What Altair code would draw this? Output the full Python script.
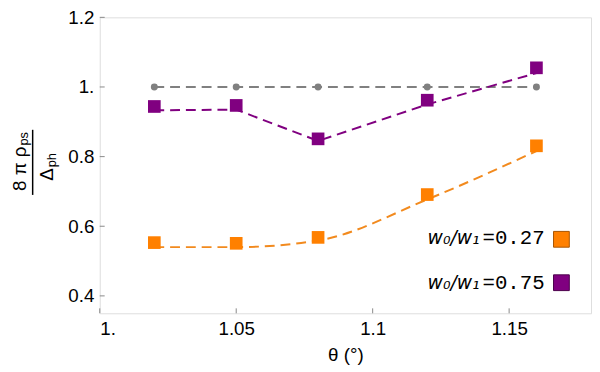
import altair as alt
import pandas as pd

# ---- data ----
theta = [1.02, 1.05, 1.08, 1.12, 1.16]
reference_line = [1.0, 1.0, 1.0, 1.0, 1.0]
purple_points = [0.944, 0.947, 0.851, 0.962, 1.055]
purple_fit = [0.933, 0.935, 0.845, 0.950, 1.040]
orange_points = [0.553, 0.551, 0.568, 0.691, 0.831]
orange_fit = [0.540, 0.540, 0.559, 0.677, 0.816]

x_ticks = [1.0, 1.05, 1.1, 1.15]
y_ticks = [0.4, 0.6, 0.8, 1.0, 1.2]
x_domain = [1.0, 1.18]
y_domain = [0.35, 1.2]

legend_names = ["w\u2080/w\u2081", "w\u2080/w\u2081"]
legend_values = ["=0.27", "=0.75"]
x_title = "\u03b8 (\u00b0)"
y_num_main = "8 \u03c0 \u03c1"
y_num_sub = "ps"
y_den_main = "\u0394"
y_den_sub = "ph"

ORANGE = "#FF8000"
PURPLE = "#800080"
GRAY = "#808080"
TOP = 7
W, H = 498, 300

df = pd.DataFrame({
    "theta": theta,
    "ref": reference_line,
    "pp": purple_points,
    "pf": purple_fit,
    "op": orange_points,
    "of": orange_fit,
})

xs = alt.Scale(domain=x_domain, nice=False, zero=False)
ys = alt.Scale(domain=y_domain, nice=False, zero=False)

xaxis = alt.Axis(
    values=x_ticks,
    labelExpr="datum.value == 1 ? '1.' : format(datum.value, '.3~f')",
    ticks=False, domain=False, grid=False, labelPadding=6,
    labelFont="Liberation Sans", labelFontSize=19, labelColor="black",
    titleFont="Liberation Sans", titleFontSize=19, titleFontWeight="normal",
    titleColor="black", titlePadding=8,
)
yaxis = alt.Axis(
    values=y_ticks,
    labelExpr="datum.value == 1 ? '1.' : format(datum.value, '.1f')",
    ticks=False, domain=False, grid=False, labelPadding=6,
    labelFont="Liberation Sans", labelFontSize=19, labelColor="black",
    title=None,
)

def X(field):
    return alt.X(f"{field}:Q", scale=xs, axis=xaxis, title=x_title)

def Y(field):
    return alt.Y(f"{field}:Q", scale=ys, axis=yaxis)

base = alt.Chart(df)

dash = [10, 6]
gray_line = base.mark_line(color=GRAY, strokeWidth=2, strokeDash=dash).encode(x=X("theta"), y=Y("ref"))
gray_pts = base.mark_point(shape="circle", filled=True, opacity=1, color=GRAY, size=50).encode(x=X("theta"), y=Y("ref"))
purple_line = base.mark_line(color=PURPLE, strokeWidth=2, strokeDash=dash).encode(x=X("theta"), y=Y("pf"))
purple_pts = base.mark_point(shape="square", filled=True, opacity=1, color=PURPLE, size=165).encode(x=X("theta"), y=Y("pp"))
orange_line = base.mark_line(color="#F28A1E", strokeWidth=2, strokeDash=dash, interpolate="monotone").encode(x=X("theta"), y=Y("of"))
orange_pts = base.mark_point(shape="square", filled=True, opacity=1, color=ORANGE, size=165).encode(x=X("theta"), y=Y("op"))

# inward ticks
ytick_df = pd.DataFrame({"v": y_ticks})
xtick_df = pd.DataFrame({"v": x_ticks})
ytick_rules = alt.Chart(ytick_df).mark_rule(color="#888", strokeWidth=1).encode(
    y=alt.Y("v:Q", scale=ys, axis=yaxis), x=alt.value(0), x2=alt.value(5))
xtick_rules = alt.Chart(xtick_df).mark_rule(color="#888", strokeWidth=1).encode(
    x=alt.X("v:Q", scale=xs, axis=xaxis, title=x_title), y=alt.value(H - 5), y2=alt.value(H))

# y-axis title as a stacked fraction
def txt(s, x, y, size, align, angle=270, font="Liberation Sans", style="normal"):
    return alt.Chart(pd.DataFrame({"t": [s]})).mark_text(
        align=align, baseline="alphabetic", angle=angle, font=font,
        fontSize=size, fontStyle=style, color="black",
    ).encode(x=alt.value(x), y=alt.value(y), text="t:N")

yc = 162 - 8 - TOP  # fraction centre in plot coords
num_main = txt(y_num_main, -75, yc - 16, 19, "right")
num_sub = txt(y_num_sub, -73, yc - 17, 13, "left")
den_main = txt(y_den_main, -47, yc + 6, 19, "right")
den_sub = txt(y_den_sub, -44, yc + 5, 13, "left")
frac_line = alt.Chart(pd.DataFrame({"a": [0]})).mark_rule(color="black", strokeWidth=1.5).encode(
    x=alt.value(-68), y=alt.value(yc - 33), y2=alt.value(yc + 33))

# legend
ly1 = 245 - 8 - TOP
ly2 = 290 - 8 - TOP
leg1_name = txt(legend_names[0], 385, ly1, 19, "right", angle=0, font="DejaVu Sans", style="italic")
leg1_val = txt(legend_values[0], 388, ly1, 21, "left", angle=0, font="Liberation Mono")
leg2_name = txt(legend_names[1], 385, ly2, 19, "right", angle=0, font="DejaVu Sans", style="italic")
leg2_val = txt(legend_values[1], 388, ly2, 21, "left", angle=0, font="Liberation Mono")
sq_df = pd.DataFrame({"a": [0]})
leg1_sq = alt.Chart(sq_df).mark_point(shape="square", filled=True, opacity=1, fill=ORANGE,
                                      stroke="#A85400", strokeWidth=1, size=256).encode(
    x=alt.value(468), y=alt.value(ly1 - 5))
leg2_sq = alt.Chart(sq_df).mark_point(shape="square", filled=True, opacity=1, fill=PURPLE,
                                      stroke="#4A004A", strokeWidth=1, size=256).encode(
    x=alt.value(468), y=alt.value(ly2 - 6))

chart = alt.layer(
    ytick_rules, xtick_rules,
    gray_line, purple_line, orange_line,
    gray_pts, purple_pts, orange_pts,
    num_main, num_sub, den_main, den_sub, frac_line,
    leg1_name, leg1_val, leg2_name, leg2_val, leg1_sq, leg2_sq,
).properties(
    width=W, height=H,
    autosize=alt.AutoSizeParams(type="none"),
    padding={"left": 93, "top": TOP, "right": 1, "bottom": 54},
).configure_view(stroke="#888", strokeWidth=1).configure(background="white")

chart.save("out.html", embed_options={"renderer": "svg", "actions": False})
